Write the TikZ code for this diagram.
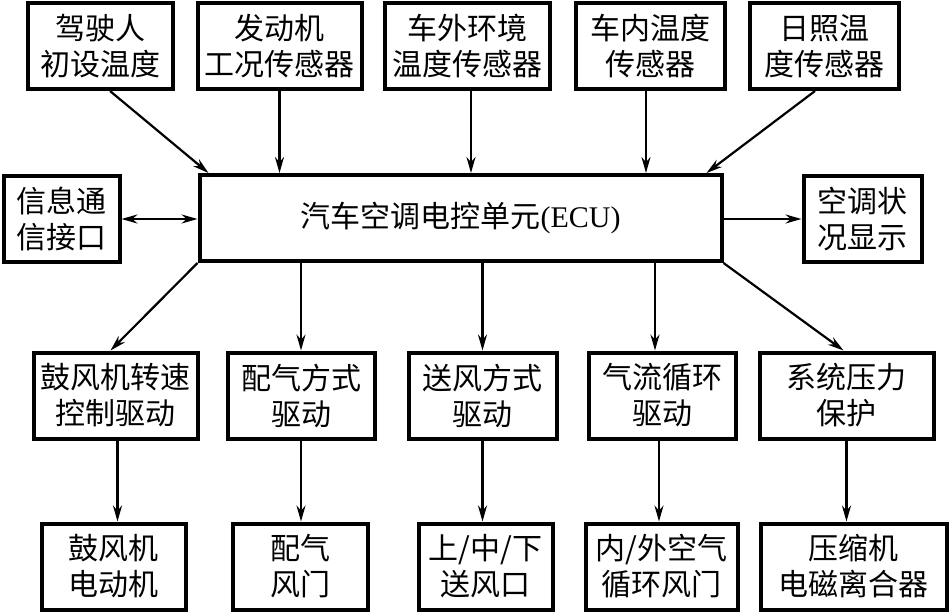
\documentclass[tikz,border=0pt]{standalone}
\usepackage{fontspec}
\newfontfamily\cjk{Noto Sans CJK SC}
\newfontfamily\latin{Liberation Serif}
\usetikzlibrary{arrows.meta,calc}
\begin{document}
\begin{tikzpicture}[x=1pt,y=1pt,
  box/.style={draw=black,line width=4pt,fill=white,inner sep=0pt,align=center,
    minimum height=86pt,font=\cjk\fontsize{30}{36}\selectfont},
  conn/.style={line width=2.2pt,-{Stealth[length=16pt,width=9pt]}},
  conn2/.style={line width=2.2pt,{Stealth[length=16pt,width=9pt]}-{Stealth[length=16pt,width=9pt]}}]
\useasboundingbox (0,0) rectangle (950,-612);
% top row
\node[box,minimum width=145pt] (t1) at (100,-46) {驾驶人\\初设温度};
\node[box,minimum width=164pt] (t2) at (279.5,-46) {发动机\\工况传感器};
\node[box,minimum width=165pt] (t3) at (467,-46) {车外环境\\温度传感器};
\node[box,minimum width=149pt] (t4) at (650,-46) {车内温度\\传感器};
\node[box,minimum width=149pt] (t5) at (824,-46) {日照温\\度传感器};
% middle
\node[box,minimum width=522pt] (ecu) at (460.5,-218) {汽车空调电控单元{\latin(ECU)}};
\node[box,minimum width=116pt] (info) at (61.5,-219) {信息通\\信接口};
\node[box,minimum width=118pt] (disp) at (862.5,-219) {空调状\\况显示};
% drive row
\node[box,minimum width=164pt] (d1) at (115.5,-395.5) {鼓风机转速\\控制驱动};
\node[box,minimum width=147pt] (d2) at (301,-395.5) {配气方式\\驱动};
\node[box,minimum width=148pt] (d3) at (482.5,-395.5) {送风方式\\驱动};
\node[box,minimum width=147pt] (d4) at (662,-395.5) {气流循环\\驱动};
\node[box,minimum width=174pt] (d5) at (846.5,-395.5) {系统压力\\保护};
% actuators
\node[box,minimum width=144pt] (a1) at (113.5,-566.5) {鼓风机\\电动机};
\node[box,minimum width=135pt] (a2) at (300,-566.5) {配气\\风门};
\node[box,minimum width=134pt] (a3) at (485.5,-566.5) {上/中/下\\送风口};
\node[box,minimum width=152pt] (a4) at (661.5,-566.5) {内/外空气\\循环风门};
\node[box,minimum width=186pt] (a5) at (853.5,-566.5) {压缩机\\电磁离合器};
% inputs
\draw[conn] ([xshift=10pt]t1.south) -- ([xshift=11pt]ecu.north west);
\draw[conn] (t2.south) -- (t2.south |- ecu.north);
\draw[conn] ([xshift=4pt]t3.south) -- ([xshift=4pt]t3.south |- ecu.north);
\draw[conn] ([xshift=-4pt]t4.south) -- ([xshift=-4pt]t4.south |- ecu.north);
\draw[conn] ([xshift=-9pt]t5.south) -- ([xshift=-17pt]ecu.north east);
% sides
\draw[conn2] (info.east) -- (info.east -| ecu.west);
\draw[conn] (ecu.east |- disp.west) -- (disp.west);
% outputs
\draw[conn] (ecu.south west) -- ([xshift=-5pt]d1.north);
\draw[conn] (d2.north |- ecu.south) -- (d2.north);
\draw[conn] (d3.north |- ecu.south) -- (d3.north);
\draw[conn] ([xshift=-7pt]d4.north |- ecu.south) -- ([xshift=-7pt]d4.north);
\draw[conn] (ecu.south east) -- ([xshift=-3pt]d5.north);
% actuator links
\draw[conn] ([xshift=2pt]d1.south) -- ([xshift=2pt]d1.south |- a1.north);
\draw[conn] (d2.south) -- (d2.south |- a2.north);
\draw[conn] (d3.south) -- (d3.south |- a3.north);
\draw[conn] ([xshift=-3pt]d4.south) -- ([xshift=-3pt]d4.south |- a4.north);
\draw[conn] (d5.south) -- (d5.south |- a5.north);
\end{tikzpicture}
\end{document}
